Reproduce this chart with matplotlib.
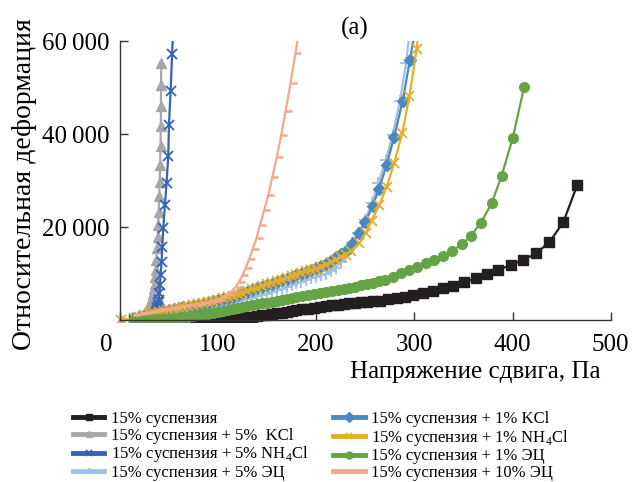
import matplotlib
matplotlib.use("Agg")
import matplotlib.pyplot as plt
import matplotlib.transforms as mtransforms
from matplotlib.ticker import FuncFormatter

plt.rcParams['font.family'] = ['Liberation Serif', 'DejaVu Serif']
plt.rcParams['mathtext.fontset'] = 'custom'
plt.rcParams['mathtext.rm'] = 'Liberation Serif'

# 15% суспензия
x_base = [15, 20, 25, 30, 35, 40, 45, 50, 55, 60, 65, 70, 75, 80, 85, 90, 95, 100, 105, 110,
          115, 120, 125, 130, 135, 140, 145, 150, 155, 160, 165, 170, 175, 180, 186, 192, 198,
          204, 210, 216, 222, 228, 234, 240, 246, 252, 258, 265, 273.5, 282, 290.5, 299, 309.2,
          319.3, 329.5, 339.7, 351, 362.5, 373.7, 385.6, 398, 411, 424, 437.5, 451.7, 466]
y_base = [0, 0, 0, 0, 0, 0, 0, 0, 0, 0, 0, 0, 0, 0, 0, 0, 20, 80, 150, 230,
          310, 390, 470, 550, 700, 850, 1000, 1150, 1300, 1450, 1600, 1780, 1950, 2120, 2300, 2480, 2650,
          2820, 2980, 3130, 3280, 3420, 3560, 3680, 3800, 3920, 4040, 4160, 4460, 4740, 5020, 5320, 5750,
          6200, 6830, 7400, 8120, 8980, 9840, 10780, 11850, 12930, 14370, 16740, 21050, 29100]

# + 5% KCl
x_kcl5 = [1, 15, 18, 21, 24, 26, 28, 30, 31.5, 33, 34, 35, 35.8, 36.4, 36.7, 37.3, 38, 38.6,
          39.2, 39.8, 40.3, 40.8, 41.2, 41.6, 41.9, 42.1, 42.2, 42.3]
y_kcl5 = [0, 200, 400, 700, 1100, 1600, 2300, 3000, 3800, 4700, 5600, 6600, 7700, 9200, 10800,
          12900, 15400, 17900, 20500, 23300, 26600, 29800, 33400, 37400, 41700, 46100, 50600, 55300]

# + 5% NH4Cl
x_nh5 = [15, 18, 21, 24, 27, 30, 32, 34, 35.5, 36.5, 37.2, 37.7, 38.2, 38.7, 39.3, 40, 40.5, 41,
         41.7, 42.7, 43.4, 44.4, 46.1, 47.8, 49.5, 50.2, 51.9, 53.4, 54.8]
y_nh5 = [300, 400, 500, 600, 700, 800, 900, 1000, 1200, 1500, 1800, 2150, 2600, 3080, 3650, 4300,
         5750, 7540, 9700, 12570, 15800, 19760, 24780, 29600, 35340, 42000, 49350, 57300, 64000]

# + 5% ЭЦ
x_ec5 = [15, 20, 25, 30, 35, 40, 45, 50, 55, 60, 65, 70, 75, 80, 85, 90, 95, 100, 105, 110, 115,
         120, 125, 130, 135, 140, 145, 150, 155, 160, 165, 170, 175, 180, 185, 190, 195, 200, 205,
         210, 215, 220, 225, 230, 236.2, 243, 249.8, 256.6, 263.3, 271.2, 278, 285.4, 291.5, 296]
y_ec5 = [200, 350, 500, 650, 800, 950, 1100, 1300, 1500, 1650, 1800, 1950, 2080, 2230, 2420, 2620,
         2820, 3020, 3230, 3450, 3730, 4000, 4280, 4560, 4840, 5120, 5380, 5700, 6050, 6400, 6750,
         7100, 7480, 7900, 8250, 8600, 8950, 9300, 9650, 10000, 10500, 11300, 12500, 14200, 16530,
         18680, 21550, 25150, 29460, 34480, 39870, 47050, 55300, 63000]

# + 1% KCl
x_kcl1 = [15, 20, 25, 30, 35, 40, 45, 50, 55, 60, 65, 70, 75, 80, 85, 90, 95, 100, 105, 110, 115,
          120, 125, 130, 135, 140, 145, 150, 155, 160, 165, 170, 175, 180, 185, 190, 195, 200, 205,
          210, 215, 220, 225, 231.2, 237.3, 243.7, 250.1, 257.6, 264, 271.9, 279.6, 288.2, 295.6, 302]
y_kcl1 = [300, 600, 850, 1100, 1350, 1600, 1850, 2100, 2300, 2500, 2700, 2900, 3100, 3300, 3500,
          3750, 4000, 4250, 4500, 4750, 5050, 5400, 5750, 6100, 6450, 6800, 7150, 7500, 7850, 8200,
          8550, 8900, 9250, 9600, 9950, 10300, 10700, 11100, 11600, 12150, 12800, 13500, 14200,
          15090, 16530, 18680, 21050, 24570, 28230, 33400, 39500, 47200, 56030, 64000]

# + 1% NH4Cl
x_nh1 = [1, 15, 20, 25, 30, 35, 40, 45, 50, 55, 60, 65, 70, 75, 80, 85, 90, 95, 100, 105, 110, 115,
         120, 125, 130, 135, 140, 145, 150, 155, 160, 165, 170, 175, 180, 185, 190, 195, 200, 205,
         210, 215, 220, 225, 230, 236, 244, 250.8, 256.6, 264.4, 271.9, 279.6, 287.8, 295, 302.4, 306]
y_nh1 = [0, 450, 750, 1000, 1250, 1500, 1750, 2000, 2250, 2450, 2650, 2850, 3050, 3250, 3450, 3650,
         3900, 4150, 4400, 4650, 4900, 5200, 5550, 5900, 6250, 6600, 6950, 7300, 7650, 8000, 8350,
         8700, 9050, 9400, 9750, 10100, 10450, 10750, 11000, 11450, 11950, 12450, 12900, 13500,
         14100, 14900, 16530, 18820, 21400, 24780, 28730, 33770, 40360, 48120, 58330, 65000]

# + 1% ЭЦ
x_ec1 = [15, 20, 25, 30, 35, 40, 45, 50, 55, 60, 65, 70, 75, 80, 85, 90, 95, 100, 105, 110, 115,
         120, 125, 130, 135, 140, 145, 150, 155, 160, 165, 170, 175, 180, 186, 192, 198, 204, 210,
         216, 222, 228, 234, 240, 246, 252, 258, 264, 270.2, 278.6, 286.5, 294.9, 303.1, 311.9,
         320.4, 329.5, 338.5, 348.6, 357.7, 367.9, 378.8, 389, 400.2, 411.7]
y_ec1 = [0, 20, 50, 90, 130, 180, 240, 310, 400, 500, 610, 740, 900, 1060, 1230, 1400, 1580, 1770,
         1960, 2150, 2350, 2560, 2760, 2960, 3160, 3360, 3560, 3760, 3960, 4160, 4360, 4560, 4760,
         4960, 5180, 5420, 5660, 5880, 6100, 6320, 6540, 6760, 6980, 7200, 7500, 7800, 8050, 8330,
         8620, 9330, 10060, 10780, 11360, 12220, 12930, 13790, 14870, 16310, 18170, 20970, 25150,
         31100, 39150, 50060]

# + 10% ЭЦ
x_ec10 = [15, 20, 25, 30, 35, 40, 45, 50, 55, 60, 65, 70, 75, 80, 85, 90, 95, 100, 105, 110, 114,
          118, 121.5, 125, 128.5, 132, 135.5, 139.5, 143, 147, 151.5, 155.5, 160, 164.5, 169, 174,
          179, 184]
y_ec10 = [1000, 1300, 1500, 1700, 1900, 2100, 2300, 2480, 2650, 2820, 2990, 3150, 3300, 3450, 3640,
          3850, 4080, 4400, 4900, 5500, 6200, 7100, 8200, 9600, 11300, 13200, 15300, 17700, 20500,
          23600, 27000, 30800, 35100, 39800, 45000, 51000, 57400, 64000]

labels = ['15% суспензия',
          '15% суспензия + 5%  KCl',
          '15% суспензия + 5% NH$_4$Cl',
          '15% суспензия + 5% ЭЦ',
          '15% суспензия + 1% KCl',
          '15% суспензия + 1% NH$_4$Cl',
          '15% суспензия + 1% ЭЦ',
          '15% суспензия + 10% ЭЦ']

dash = [(0, 0), (1, 0)]

fig = plt.figure(figsize=(6.33, 4.82), dpi=100)
ax = fig.add_axes([0.1766, 0.3322, 0.7882, 0.5821])

h = []
h += ax.plot(x_base, y_base, color='#231f20', marker='s', ms=6.5, lw=1.6)
h += ax.plot(x_kcl5, y_kcl5, color='#a5a7aa', marker='^', ms=7, lw=1.6)
h += ax.plot(x_nh5, y_nh5, color='#3563b5', marker='x', ms=6.5, mew=1.3, lw=1.6)
h += ax.plot(x_ec5, y_ec5, color='#9cc2e8', marker='+', ms=8, mew=1.3, lw=1.6)
h += ax.plot(x_kcl1, y_kcl1, color='#4a88c4', marker='D', ms=6, lw=1.6)
h += ax.plot(x_nh1, y_nh1, color='#e6ad28', marker='x', ms=7, mew=1.3, lw=1.6)
h += ax.plot(x_ec1, y_ec1, color='#64a446', marker='o', ms=7, lw=1.6)
h += ax.plot(x_ec10, y_ec10, color='#f3a78b', marker=dash, ms=8, mew=1.8, lw=1.6)

ax.set_xlim(-8, 500)
ax.set_ylim(-400, 60000)
for s in ['top', 'right']:
    ax.spines[s].set_visible(False)
ax.spines['bottom'].set_position(('data', 0))
ax.spines['left'].set_position(('data', 0))
ax.spines['bottom'].set_bounds(0, 500)
ax.spines['left'].set_bounds(0, 60000)
for s in ['bottom', 'left']:
    ax.spines[s].set_color('#333333')
    ax.spines[s].set_linewidth(1)

ax.set_xticks([0, 100, 200, 300, 400, 500])
ax.set_yticks([20000, 40000, 60000])
ax.yaxis.set_major_formatter(FuncFormatter(lambda v, p: f'{int(v) // 1000}\u2009000'))
ax.tick_params(direction='in', length=6, width=1, color='#333333', labelsize=18)
ax.tick_params(axis='x', pad=10)
ax.tick_params(axis='y', pad=7)

lab0 = ax.get_xticklabels()[0]
lab0.set_transform(lab0.get_transform() + mtransforms.ScaledTranslation(-0.13, 0, fig.dpi_scale_trans))

ax.set_xlabel('Напряжение сдвига, Па', fontsize=18)
ax.xaxis.set_label_coords(0.98, -0.14)
ax.xaxis.label.set_ha('right')
ax.set_ylabel('Относительная деформация', fontsize=20)
ax.yaxis.set_label_coords(-0.15, 0.49)

fig.text(355 / 633, 1 - 28 / 482, '(a)', fontsize=18, ha='center', va='center')

leg = fig.legend(h, labels, ncol=2, loc='upper left', bbox_to_anchor=(66 / 633, 1 - 404 / 482),
                 frameon=False, fontsize=12, handlelength=1.9, handletextpad=0.4,
                 columnspacing=1.45, labelspacing=0.05, borderaxespad=0)
for ln in leg.get_lines():
    ln.set_linewidth(3.5)
    ln.set_markersize(5)

fig.savefig('out.png', dpi=100)
